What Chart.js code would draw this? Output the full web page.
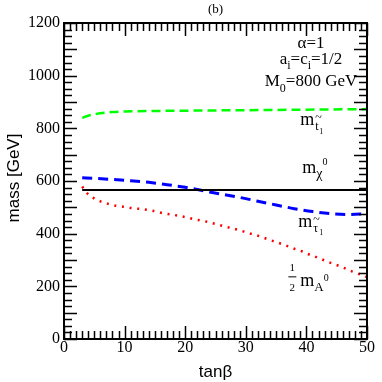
<!DOCTYPE html>
<html>
<head>
<meta charset="utf-8">
<script src="https://cdn.jsdelivr.net/npm/chart.js@4"></script>
<style>
  html, body { margin:0; padding:0; background:#fff; }
  #wrap { width:382px; height:382px; }
</style>
</head>
<body>
<div id="wrap"><canvas id="c" width="382" height="382"></canvas></div>
<script>
// values (tanβ vs mass in GeV)
const stopTan   = [3, 4, 5, 6, 8, 10, 15, 20, 30, 40, 50];
const stopMass  = [840, 848, 853, 857, 862, 864, 866, 867, 869, 871, 873];

const chiTan    = [3, 50];
const chiMass   = [566, 566];

const stauTan   = [3, 5, 8, 11, 14, 17, 20, 22, 24, 27, 30, 32, 35, 38, 41, 44, 47, 50];
const stauMass  = [612, 610, 606, 601, 595, 586, 576, 568, 558, 546, 533, 523, 509, 495, 484, 476, 473, 476];

const aTan      = [3, 3.8, 4.9, 6.1, 7.3, 8.6, 9.9, 11.2, 12.5, 13.8, 15.1, 16.3, 17.7, 18.9, 20.2, 21.4, 22.8, 24, 25.3, 26.6, 27.8, 29.1, 30.3, 31.6, 32.9, 34.1, 35.3, 36.5, 37.7, 39, 40.1, 41.4, 42.6, 43.9, 45.1, 46.3, 47.5, 48.7, 50];
const aMass     = [579, 554, 535, 522, 513, 506, 502, 497, 494, 490, 485, 478, 473, 468, 462, 455, 449, 443, 435, 427, 420, 412, 403, 395, 385, 375, 366, 356, 345, 335, 324, 313, 302, 290, 280, 269, 257, 247, 235];

const xTicks = [0, 10, 20, 30, 40, 50];
const yTicks = [0, 200, 400, 600, 800, 1000, 1200];

const pts = (xs, ys) => xs.map((x, i) => ({x, y: ys[i]}));

const SERIF = '"Liberation Serif", "DejaVu Serif", serif';
const SANS = '"Liberation Sans", Arial, sans-serif';

// inner ticks on all four sides + frame + titles + labels
const framePlugin = {
  id: 'frame',
  afterDatasetsDraw(chart) {
    const {ctx, chartArea: a, scales: {x, y}} = chart;
    ctx.save();
    ctx.strokeStyle = '#000';
    ctx.lineWidth = 1.5;
    ctx.beginPath();
    for (let t = 0; t <= 50; t++) {
      const px = Math.round(x.getPixelForValue(t)) + 0.5;
      const len = t % 10 === 0 ? 13 : 8;
      ctx.moveTo(px, a.bottom); ctx.lineTo(px, a.bottom - len);
      ctx.moveTo(px, a.top); ctx.lineTo(px, a.top + len);
    }
    for (let v = 0; v <= 1200; v += 25) {
      const py = Math.round(y.getPixelForValue(v)) + 0.5;
      const len = v % 100 === 0 ? 13 : 8;
      ctx.moveTo(a.left, py); ctx.lineTo(a.left + len, py);
      ctx.moveTo(a.right, py); ctx.lineTo(a.right - len, py);
    }
    ctx.stroke();
    ctx.lineWidth = 2;
    ctx.strokeRect(a.left, a.top, a.right - a.left, a.bottom - a.top);

    ctx.fillStyle = '#000';
    // panel tag
    ctx.font = '13px ' + SERIF;
    ctx.textAlign = 'center';
    ctx.textBaseline = 'alphabetic';
    ctx.fillText('(b)', (a.left + a.right) / 2, 13);

    // axis titles
    ctx.font = '17px ' + SANS;
    ctx.fillText('tan\u03b2', (a.left + a.right) / 2, 377);
    ctx.save();
    ctx.translate(19, 178);
    ctx.rotate(-Math.PI / 2);
    ctx.fillText('mass [GeV]', 0, 0);
    ctx.restore();

    // parameter block
    const cx = 311;
    ctx.font = '17px ' + SERIF;
    ctx.textAlign = 'center';
    ctx.fillText('\u03b1=1', cx, 48);
    const seg = (parts, x0, base) => {
      let xx = x0;
      parts.forEach(([txt, size, dy]) => {
        ctx.font = size + 'px ' + SERIF;
        ctx.textAlign = 'left';
        ctx.fillText(txt, xx, base + dy);
        xx += ctx.measureText(txt).width;
      });
      return xx;
    };
    const widthOf = (parts) => parts.reduce((s, [txt, size]) => {
      ctx.font = size + 'px ' + SERIF; return s + ctx.measureText(txt).width; }, 0);
    const l2 = [['a', 17, 0], ['i', 12, 5], ['=c', 17, 0], ['i', 12, 5], ['=1/2', 17, 0]];
    seg(l2, cx - widthOf(l2) / 2, 64);
    const l3 = [['M', 17, 0], ['0', 12, 6], ['=800 GeV', 17, 0]];
    seg(l3, cx - widthOf(l3) / 2, 86);

    // curve labels
    const lx = x.getPixelForValue(39.5);
    // stop
    seg([['m', 18, 0]], lx - 3, y.getPixelForValue(813));
    ctx.font = '12px ' + SERIF; ctx.textAlign = 'left';
    ctx.fillText('~', lx + 12, y.getPixelForValue(828));
    ctx.fillText('t', lx + 12, y.getPixelForValue(792));
    ctx.font = '8px ' + SERIF;
    ctx.fillText('1', lx + 16, y.getPixelForValue(780));
    // neutralino
    seg([['m', 18, 0], ['\u03c7', 14, 5], ['0', 10, -8]], lx - 1, y.getPixelForValue(630));
    // stau
    seg([['m', 18, 0]], lx - 5, y.getPixelForValue(425));
    ctx.font = '12px ' + SERIF; ctx.textAlign = 'left';
    ctx.fillText('~', lx + 10, y.getPixelForValue(442));
    ctx.fillText('\u03c4', lx + 10, y.getPixelForValue(405));
    ctx.font = '8px ' + SERIF;
    ctx.fillText('1', lx + 16, y.getPixelForValue(394));
    // 1/2 m_A0
    const fx = lx - 11;
    ctx.font = '11px ' + SERIF; ctx.textAlign = 'center';
    ctx.fillText('1', fx, y.getPixelForValue(257));
    ctx.fillText('2', fx, y.getPixelForValue(183));
    ctx.lineWidth = 1;
    ctx.beginPath();
    ctx.moveTo(fx - 4, y.getPixelForValue(236)); ctx.lineTo(fx + 4, y.getPixelForValue(236));
    ctx.stroke();
    seg([['m', 18, 0], ['A', 13, 5], ['0', 10, -5]], lx - 3, y.getPixelForValue(200));
    ctx.restore();
  }
};

new Chart(document.getElementById('c').getContext('2d'), {
  type: 'line',
  data: {
    datasets: [
      { label: 'stop', data: pts(stopTan, stopMass), borderColor: '#00ff00', borderWidth: 2.5,
        borderDash: [9, 5], pointRadius: 0, fill: false, cubicInterpolationMode: 'monotone' },
      { label: 'chi', data: pts(chiTan, chiMass), borderColor: '#000', borderWidth: 2,
        pointRadius: 0, fill: false },
      { label: 'stau', data: pts(stauTan, stauMass), borderColor: '#0000ff', borderWidth: 3,
        borderDash: [10, 6], pointRadius: 0, fill: false, cubicInterpolationMode: 'monotone' },
      { label: 'A', data: pts(aTan, aMass), borderColor: '#ff0000', borderWidth: 2.5,
        borderDash: [2, 5.7], pointRadius: 0, fill: false, cubicInterpolationMode: 'monotone' }
    ]
  },
  options: {
    responsive: false,
    animation: false,
    layout: { padding: { top: 23, right: 15, left: 0, bottom: 0 } },
    plugins: { legend: { display: false }, tooltip: { enabled: false } },
    scales: {
      x: {
        type: 'linear', min: 0, max: 50,
        afterBuildTicks: s => { s.ticks = xTicks.map(v => ({value: v})); },
        afterFit: s => { s.height = 43; },
        ticks: { font: { family: SERIF, size: 16 }, color: '#000', padding: -1, maxRotation: 0,
                 callback: v => String(v) },
        grid: { display: false, drawTicks: false },
        border: { display: false }
      },
      y: {
        type: 'linear', min: 0, max: 1200,
        afterBuildTicks: s => { s.ticks = yTicks.map(v => ({value: v})); },
        afterFit: s => { s.width = 64; },
        ticks: { font: { family: SERIF, size: 16 }, color: '#000', padding: 4,
                 callback: v => String(v) },
        grid: { display: false, drawTicks: false },
        border: { display: false }
      }
    }
  },
  plugins: [framePlugin]
});
</script>
</body>
</html>
